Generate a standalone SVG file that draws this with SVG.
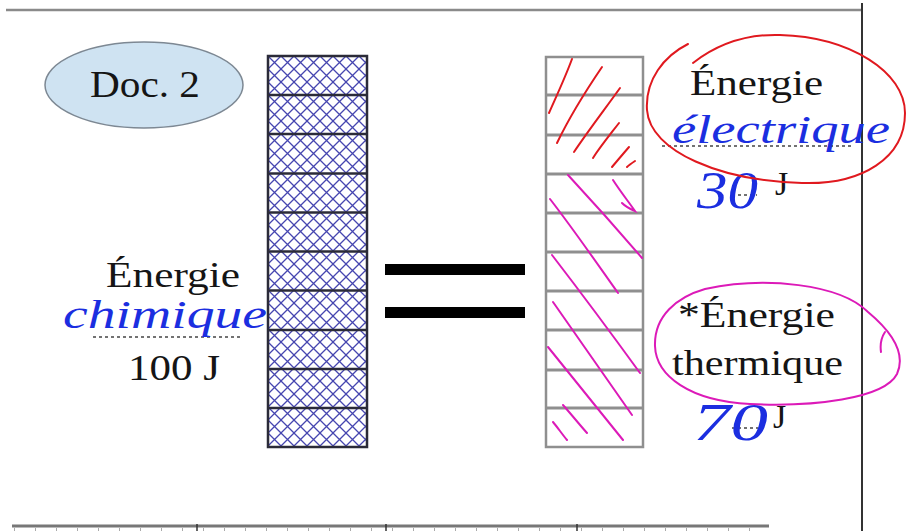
<svg xmlns="http://www.w3.org/2000/svg" width="907" height="531" viewBox="0 0 907 531">
<defs>
<pattern id="xh" patternUnits="userSpaceOnUse" width="13" height="13" x="268" y="56">
<rect width="13" height="13" fill="#ffffff"/>
<path d="M0,0 L13,13 M13,0 L0,13 M-1,12 L1,14 M12,-1 L14,1" stroke="#4646b0" stroke-width="1.3" fill="none"/>
</pattern>
<style>
.t{font-family:"Liberation Serif","Tinos","Times New Roman","DejaVu Serif",serif;fill:#151515}
.hw{font-family:"Liberation Serif","Tinos","DejaVu Serif",serif;font-style:italic;fill:#1b2ee0}
.dot{stroke:#444;stroke-width:1.6;stroke-dasharray:3 3;fill:none}
.ldiv{stroke:#2b2b38;stroke-width:2.5}
.rdiv{stroke:#8f8f8f;stroke-width:3}
.red{stroke:#e0191f;stroke-width:2;fill:none;stroke-linecap:round}
.mag{stroke:#dc1ab8;stroke-width:2;fill:none;stroke-linecap:round}
</style>
</defs>
<rect width="907" height="531" fill="#ffffff"/>

<g id="frame">
<line x1="6" y1="10" x2="862" y2="10" stroke="#8a8a8a" stroke-width="2.5"/>
<line x1="862" y1="3" x2="862" y2="531" stroke="#333" stroke-width="2"/>
<line x1="12" y1="526" x2="769" y2="526" stroke="#777" stroke-width="3"/>
<line x1="14" y1="529.5" x2="769" y2="529.5" stroke="#aaa" stroke-width="3" stroke-dasharray="1 20"/>
<path d="M197,524 V531 M386,524 V531 M577,524 V531" stroke="#333" stroke-width="1.5"/>
</g>

<g id="doc2">
<ellipse cx="144" cy="85" rx="99" ry="43" fill="#cfe3f2" stroke="#7d8893" stroke-width="1.5"/>
<text class="t" x="90" y="97" font-size="38" textLength="110" lengthAdjust="spacingAndGlyphs">Doc. 2</text>
</g>

<g id="bar-left">
<rect x="268" y="56" width="99" height="391" fill="url(#xh)" stroke="#2b2b38" stroke-width="2.5"/>
<path class="ldiv" d="M268,95 H367 M268,134 H367 M268,173.5 H367 M268,212.5 H367 M268,251.5 H367 M268,290.5 H367 M268,330 H367 M268,369 H367 M268,408 H367"/>
</g>

<g id="equals">
<rect x="385" y="264" width="140" height="11" fill="#000"/>
<rect x="385" y="307" width="140" height="11" fill="#000"/>
</g>

<g id="bar-right">
<rect x="546" y="57" width="97" height="390" fill="#fff" stroke="#8f8f8f" stroke-width="2.5"/>
<path class="rdiv" d="M546,95 H643 M546,135 H643 M546,174 H643 M546,213 H643 M546,252 H643 M546,291 H643 M546,330 H643 M546,370 H643 M546,408 H643"/>
<path class="red" d="M572,59 C565,78 556,97 549,113 M602,67 C585,92 569,118 557,143 M620,88 C605,109 588,131 574,152 M619,123 C609,136 600,147 593,158 M629,147 C623,154 617,161 612,167 M635,161 C632,163 629,165 627,167"/>
<path class="mag" d="M568,175 C593,202 618,230 642,258 M550,199 C574,230 596,262 618,293 M613,180 C620,191 628,201 635,211 C630,209 625,206 622,203 M552,255 C582,294 611,333 640,373 M553,302 C580,340 606,378 632,415 M548,347 C573,378 598,409 623,440 M563,405 C571,414 579,424 587,433 M553,422 C558,428 562,434 567,440"/>
</g>

<g id="label-left">
<text class="t" x="106" y="287" font-size="35" textLength="134" lengthAdjust="spacingAndGlyphs">Énergie</text>
<line class="dot" x1="93" y1="337" x2="242" y2="337"/>
<text class="t" x="128" y="380" font-size="35" textLength="92" lengthAdjust="spacingAndGlyphs">100 J</text>
<text class="hw" x="63" y="328" font-size="40" textLength="204" lengthAdjust="spacingAndGlyphs">chimique</text>
</g>

<g id="label-elec">
<text class="t" x="690" y="95" font-size="36" textLength="133" lengthAdjust="spacingAndGlyphs">Énergie</text>
<line class="dot" x1="662" y1="146" x2="853" y2="146"/>
<line class="dot" x1="732" y1="195" x2="757" y2="195"/>
<text class="t" x="775" y="195" font-size="34">J</text>
<text class="hw" x="672" y="143" font-size="40" textLength="218" lengthAdjust="spacingAndGlyphs">électrique</text>
<text class="hw" x="697" y="208" font-size="52" textLength="61" lengthAdjust="spacingAndGlyphs">30</text>
<path class="red" d="M693,63 C720,42 748,34 780,35 C850,37 905,72 905,113 C905,158 862,185 802,183 C722,181 650,152 647,110 C645,80 664,56 688,44"/>
</g>

<g id="label-therm">
<text class="t" x="678" y="327" font-size="36" textLength="157" lengthAdjust="spacingAndGlyphs">*Énergie</text>
<text class="t" x="672" y="375" font-size="36" textLength="171" lengthAdjust="spacingAndGlyphs">thermique</text>
<line class="dot" x1="732" y1="428" x2="758" y2="428"/>
<text class="t" x="773" y="428" font-size="34">J</text>
<text class="hw" x="693" y="440" font-size="52" textLength="75" lengthAdjust="spacingAndGlyphs">70</text>
<path class="mag" d="M705,289 C765,276 840,284 868,312 C892,332 906,354 897,374 C884,399 812,407 750,404 C690,401 656,376 655,346 C654,316 677,297 705,289 Z M881,352 C880,345 881,338 885,332"/>
</g>
</svg>
